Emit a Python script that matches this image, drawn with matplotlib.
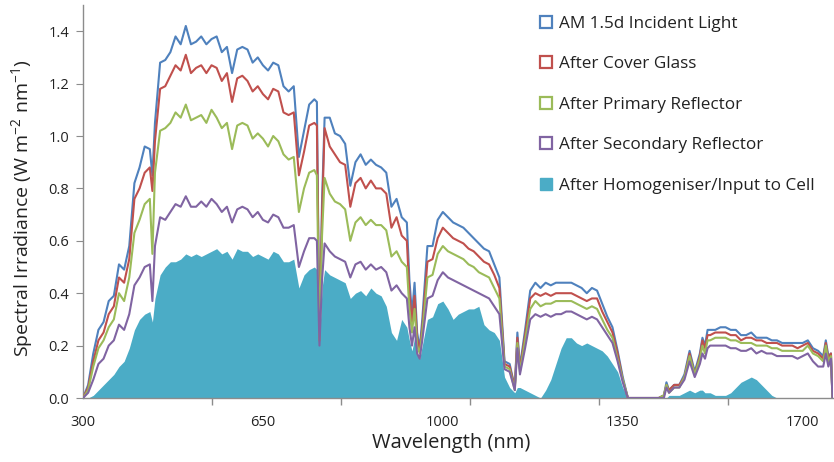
import matplotlib
matplotlib.use("Agg")
import matplotlib.pyplot as plt
from matplotlib.patches import Patch
from matplotlib.ticker import FixedLocator, NullFormatter

plt.rcParams['font.family'] = ['Open Sans', 'DejaVu Sans']
plt.rcParams['mathtext.fontset'] = 'custom'
plt.rcParams['mathtext.rm'] = 'Open Sans'
plt.rcParams['mathtext.it'] = 'Open Sans'
plt.rcParams['mathtext.default'] = 'regular'

wavelength = [
    300, 310, 320, 330, 340, 350, 360, 370, 380, 390,
    400, 410, 420, 430, 435, 440, 450, 460, 470, 480,
    490, 500, 510, 520, 530, 540, 550, 560, 570, 580,
    590, 600, 610, 620, 630, 640, 650, 660, 670, 680,
    690, 700, 710, 720, 730, 740, 750, 755, 760, 765,
    770, 780, 790, 800, 810, 820, 830, 840, 850, 860,
    870, 880, 890, 900, 910, 920, 930, 935, 940, 945,
    950, 955, 960, 970, 980, 990, 1000, 1010, 1020, 1030,
    1040, 1050, 1060, 1070, 1080, 1090, 1100, 1110, 1120, 1130,
    1140, 1145, 1150, 1160, 1170, 1180, 1190, 1200, 1210, 1220,
    1230, 1240, 1250, 1260, 1270, 1280, 1290, 1300, 1310, 1320,
    1330, 1340, 1350, 1360, 1380, 1400, 1420, 1430, 1435, 1440,
    1450, 1460, 1470, 1480, 1490, 1500, 1505, 1510, 1515, 1520,
    1530, 1540, 1550, 1560, 1570, 1580, 1590, 1600, 1610, 1620,
    1630, 1640, 1650, 1660, 1670, 1680, 1690, 1700, 1710, 1720,
    1730, 1740, 1745, 1750, 1755, 1758,
]

am15d_incident = [
    0.00, 0.05, 0.17, 0.26, 0.29, 0.37, 0.39, 0.51, 0.49, 0.58,
    0.82, 0.88, 0.96, 0.95, 0.85, 1.05, 1.28, 1.29, 1.32, 1.38,
    1.35, 1.42, 1.35, 1.36, 1.38, 1.35, 1.37, 1.38, 1.32, 1.34,
    1.24, 1.33, 1.34, 1.33, 1.28, 1.30, 1.27, 1.25, 1.28, 1.27,
    1.19, 1.17, 1.19, 0.92, 1.02, 1.12, 1.14, 1.13, 0.22, 0.75,
    1.07, 1.07, 1.01, 1.00, 0.97, 0.81, 0.90, 0.93, 0.89, 0.91,
    0.89, 0.88, 0.86, 0.73, 0.76, 0.69, 0.67, 0.45, 0.32, 0.44,
    0.25, 0.19, 0.30, 0.58, 0.58, 0.68, 0.71, 0.69, 0.67, 0.66,
    0.65, 0.63, 0.61, 0.59, 0.57, 0.56, 0.51, 0.46, 0.14, 0.13,
    0.04, 0.25, 0.12, 0.26, 0.41, 0.44, 0.42, 0.44, 0.43, 0.44,
    0.44, 0.44, 0.44, 0.43, 0.42, 0.40, 0.42, 0.41, 0.36, 0.31,
    0.27, 0.18, 0.08, 0.00, 0.00, 0.00, 0.00, 0.01, 0.06, 0.03,
    0.05, 0.05, 0.09, 0.18, 0.10, 0.17, 0.23, 0.20, 0.26, 0.26,
    0.26, 0.27, 0.27, 0.26, 0.26, 0.24, 0.24, 0.25, 0.23, 0.23,
    0.23, 0.22, 0.22, 0.21, 0.21, 0.21, 0.21, 0.21, 0.22, 0.19,
    0.18, 0.16, 0.22, 0.16, 0.17, 0.00,
]

after_cover_glass = [
    0.00, 0.04, 0.14, 0.22, 0.25, 0.32, 0.35, 0.46, 0.44, 0.53,
    0.76, 0.80, 0.86, 0.88, 0.79, 0.98, 1.18, 1.19, 1.23, 1.27,
    1.25, 1.31, 1.24, 1.26, 1.27, 1.24, 1.27, 1.26, 1.21, 1.24,
    1.13, 1.22, 1.23, 1.21, 1.17, 1.19, 1.16, 1.14, 1.18, 1.17,
    1.09, 1.08, 1.09, 0.85, 0.94, 1.04, 1.05, 1.04, 0.22, 0.70,
    1.03, 0.96, 0.93, 0.90, 0.89, 0.73, 0.82, 0.84, 0.80, 0.83,
    0.80, 0.80, 0.78, 0.65, 0.69, 0.62, 0.60, 0.40, 0.29, 0.39,
    0.23, 0.18, 0.27, 0.52, 0.53, 0.61, 0.65, 0.63, 0.61, 0.60,
    0.59, 0.57, 0.56, 0.54, 0.52, 0.51, 0.47, 0.42, 0.13, 0.12,
    0.04, 0.23, 0.11, 0.24, 0.38, 0.40, 0.39, 0.40, 0.39, 0.40,
    0.40, 0.40, 0.40, 0.39, 0.38, 0.37, 0.38, 0.38, 0.33, 0.29,
    0.25, 0.17, 0.07, 0.00, 0.00, 0.00, 0.00, 0.01, 0.05, 0.03,
    0.05, 0.05, 0.08, 0.17, 0.09, 0.16, 0.22, 0.19, 0.24, 0.24,
    0.25, 0.25, 0.25, 0.24, 0.24, 0.22, 0.23, 0.23, 0.22, 0.22,
    0.21, 0.21, 0.21, 0.20, 0.20, 0.20, 0.19, 0.20, 0.21, 0.18,
    0.17, 0.15, 0.21, 0.15, 0.17, 0.00,
]

after_primary = [
    0.00, 0.03, 0.12, 0.19, 0.22, 0.27, 0.30, 0.40, 0.37, 0.46,
    0.63, 0.68, 0.74, 0.76, 0.55, 0.86, 1.02, 1.03, 1.05, 1.09,
    1.07, 1.12, 1.06, 1.07, 1.08, 1.05, 1.10, 1.07, 1.03, 1.05,
    0.95, 1.04, 1.05, 1.04, 0.99, 1.01, 0.99, 0.96, 1.00, 0.98,
    0.93, 0.91, 0.92, 0.71, 0.80, 0.86, 0.87, 0.85, 0.22, 0.62,
    0.84, 0.78, 0.75, 0.74, 0.72, 0.60, 0.67, 0.69, 0.66, 0.68,
    0.66, 0.66, 0.64, 0.54, 0.56, 0.52, 0.50, 0.34, 0.25, 0.34,
    0.20, 0.17, 0.25, 0.46, 0.47, 0.55, 0.58, 0.56, 0.55, 0.54,
    0.53, 0.51, 0.50, 0.48, 0.47, 0.46, 0.42, 0.38, 0.12, 0.11,
    0.03, 0.21, 0.10, 0.22, 0.34, 0.37, 0.35, 0.36, 0.36, 0.37,
    0.37, 0.37, 0.37, 0.36, 0.35, 0.34, 0.35, 0.34, 0.30, 0.26,
    0.23, 0.15, 0.07, 0.00, 0.00, 0.00, 0.00, 0.01, 0.05, 0.02,
    0.04, 0.04, 0.08, 0.16, 0.09, 0.15, 0.20, 0.17, 0.22, 0.22,
    0.23, 0.23, 0.23, 0.22, 0.22, 0.21, 0.21, 0.21, 0.20, 0.20,
    0.20, 0.19, 0.19, 0.18, 0.18, 0.18, 0.18, 0.18, 0.20, 0.17,
    0.16, 0.14, 0.20, 0.14, 0.16, 0.00,
]

after_secondary = [
    0.00, 0.02, 0.07, 0.13, 0.15, 0.20, 0.22, 0.28, 0.26, 0.32,
    0.43, 0.46, 0.50, 0.51, 0.37, 0.58, 0.69, 0.68, 0.71, 0.74,
    0.73, 0.77, 0.73, 0.73, 0.75, 0.73, 0.76, 0.74, 0.71, 0.73,
    0.67, 0.72, 0.73, 0.72, 0.69, 0.71, 0.68, 0.67, 0.70, 0.69,
    0.65, 0.65, 0.66, 0.50, 0.56, 0.61, 0.61, 0.60, 0.20, 0.45,
    0.59, 0.56, 0.54, 0.53, 0.52, 0.46, 0.51, 0.52, 0.49, 0.51,
    0.49, 0.50, 0.48, 0.41, 0.43, 0.40, 0.38, 0.27, 0.20, 0.27,
    0.17, 0.15, 0.22, 0.38, 0.39, 0.45, 0.48, 0.46, 0.45, 0.44,
    0.43, 0.42, 0.41, 0.40, 0.39, 0.38, 0.35, 0.32, 0.11, 0.10,
    0.03, 0.19, 0.09, 0.19, 0.30, 0.32, 0.31, 0.32, 0.31, 0.32,
    0.32, 0.33, 0.33, 0.32, 0.31, 0.30, 0.31, 0.30, 0.27, 0.24,
    0.21, 0.14, 0.06, 0.00, 0.00, 0.00, 0.00, 0.00, 0.04, 0.02,
    0.04, 0.04, 0.07, 0.14, 0.08, 0.13, 0.17, 0.15, 0.19, 0.20,
    0.20, 0.20, 0.20, 0.19, 0.19, 0.18, 0.18, 0.19, 0.17, 0.18,
    0.17, 0.17, 0.16, 0.16, 0.16, 0.16, 0.15, 0.16, 0.17, 0.14,
    0.12, 0.12, 0.17, 0.12, 0.15, 0.00,
]

after_homogeniser = [
    0.00, 0.00, 0.01, 0.03, 0.05, 0.07, 0.09, 0.12, 0.14, 0.19,
    0.26, 0.30, 0.32, 0.33, 0.29, 0.38, 0.47, 0.50, 0.52, 0.52,
    0.53, 0.55, 0.54, 0.55, 0.54, 0.55, 0.56, 0.57, 0.55, 0.56,
    0.53, 0.57, 0.56, 0.56, 0.54, 0.55, 0.54, 0.53, 0.56, 0.55,
    0.52, 0.52, 0.53, 0.42, 0.47, 0.49, 0.50, 0.49, 0.22, 0.42,
    0.49, 0.47, 0.46, 0.45, 0.44, 0.38, 0.40, 0.41, 0.39, 0.42,
    0.40, 0.39, 0.35, 0.25, 0.22, 0.30, 0.27, 0.22, 0.18, 0.23,
    0.17, 0.15, 0.20, 0.30, 0.31, 0.36, 0.37, 0.34, 0.30, 0.32,
    0.33, 0.34, 0.34, 0.35, 0.28, 0.26, 0.25, 0.22, 0.08, 0.04,
    0.02, 0.04, 0.04, 0.03, 0.02, 0.01, 0.00, 0.03, 0.07, 0.13,
    0.19, 0.23, 0.23, 0.21, 0.20, 0.21, 0.20, 0.19, 0.18, 0.16,
    0.13, 0.10, 0.04, 0.00, 0.00, 0.00, 0.00, 0.00, 0.00, 0.01,
    0.01, 0.01, 0.02, 0.03, 0.02, 0.03, 0.03, 0.02, 0.02, 0.02,
    0.01, 0.01, 0.01, 0.02, 0.04, 0.06, 0.07, 0.08, 0.07, 0.05,
    0.03, 0.01, 0.00, 0.00, 0.00, 0.00, 0.00, 0.00, 0.00, 0.00,
    0.00, 0.00, 0.00, 0.00, 0.00, 0.00,
]

series_labels = [
    "AM 1.5d Incident Light",
    "After Cover Glass",
    "After Primary Reflector",
    "After Secondary Reflector",
    "After Homogeniser/Input to Cell",
]
x_tick_labels = [300, 650, 1000, 1350, 1700]
x_tick_marks = [300, 551, 802, 1053, 1304, 1555]
y_ticks = [0.0, 0.2, 0.4, 0.6, 0.8, 1.0, 1.2, 1.4]

colors = ["#4F81BD", "#C0504D", "#9BBB59", "#8064A2", "#4BACC6"]
axis_grey = "#8C8C8C"
text_col = "#222222"

W, H = 834, 462
fig = plt.figure(figsize=(W / 100, H / 100), dpi=100)
ax = fig.add_axes([83 / W, 1 - 398 / H, (833 - 83) / W, (398 - 5) / H])

ax.fill_between(wavelength, 0, after_homogeniser, color=colors[4], lw=0, zorder=1)
line_series = [am15d_incident, after_cover_glass, after_primary, after_secondary]
for i, ys in enumerate(line_series):
    ax.plot(wavelength, ys, color=colors[i], lw=1.5, zorder=2 + i)

ax.set_xlim(300, 1759)
ax.set_ylim(0, 1.5)

for s in ("top", "right"):
    ax.spines[s].set_visible(False)
for s in ("left", "bottom"):
    ax.spines[s].set_color(axis_grey)
    ax.spines[s].set_linewidth(1.0)

ax.set_yticks(y_ticks)
ax.set_yticklabels([f"{v:.1f}" for v in y_ticks])
ax.tick_params(axis='y', direction='out', length=5, color=axis_grey,
               labelsize=10.5, labelcolor=text_col, pad=5)

ax.xaxis.set_major_locator(FixedLocator(x_tick_labels))
ax.set_xticklabels([str(v) for v in x_tick_labels])
ax.tick_params(axis='x', which='major', length=0, labelsize=10.5,
               labelcolor=text_col, pad=12)
ax.xaxis.set_minor_locator(FixedLocator(x_tick_marks))
ax.xaxis.set_minor_formatter(NullFormatter())
ax.tick_params(axis='x', which='minor', direction='out', length=5,
               color=axis_grey, width=1.0)

ax.set_xlabel("Wavelength (nm)", fontsize=14.5, color=text_col)
ax.xaxis.set_label_coords((451 - 83) / (833 - 83), -0.09)
ax.set_ylabel("Spectral Irradiance (W m$^{-2}$ nm$^{-1}$)", fontsize=14,
              color=text_col)
ax.yaxis.set_label_coords(-(83 - 35) / (833 - 83), (398 - 208) / (398 - 5))

handles = [Patch(facecolor="white", edgecolor=c, linewidth=1.6) for c in colors[:4]]
handles.append(Patch(facecolor=colors[4], edgecolor=colors[4]))
leg = fig.legend(handles, series_labels, loc="upper left",
                 bbox_to_anchor=(540 / W, 1 - 16 / H),
                 frameon=False, fontsize=12.3, handlelength=0.7,
                 handleheight=0.7, handletextpad=0.4, labelspacing=1.43,
                 borderpad=0, borderaxespad=0)
for t in leg.get_texts():
    t.set_color(text_col)

fig.savefig("out.png", dpi=100)
